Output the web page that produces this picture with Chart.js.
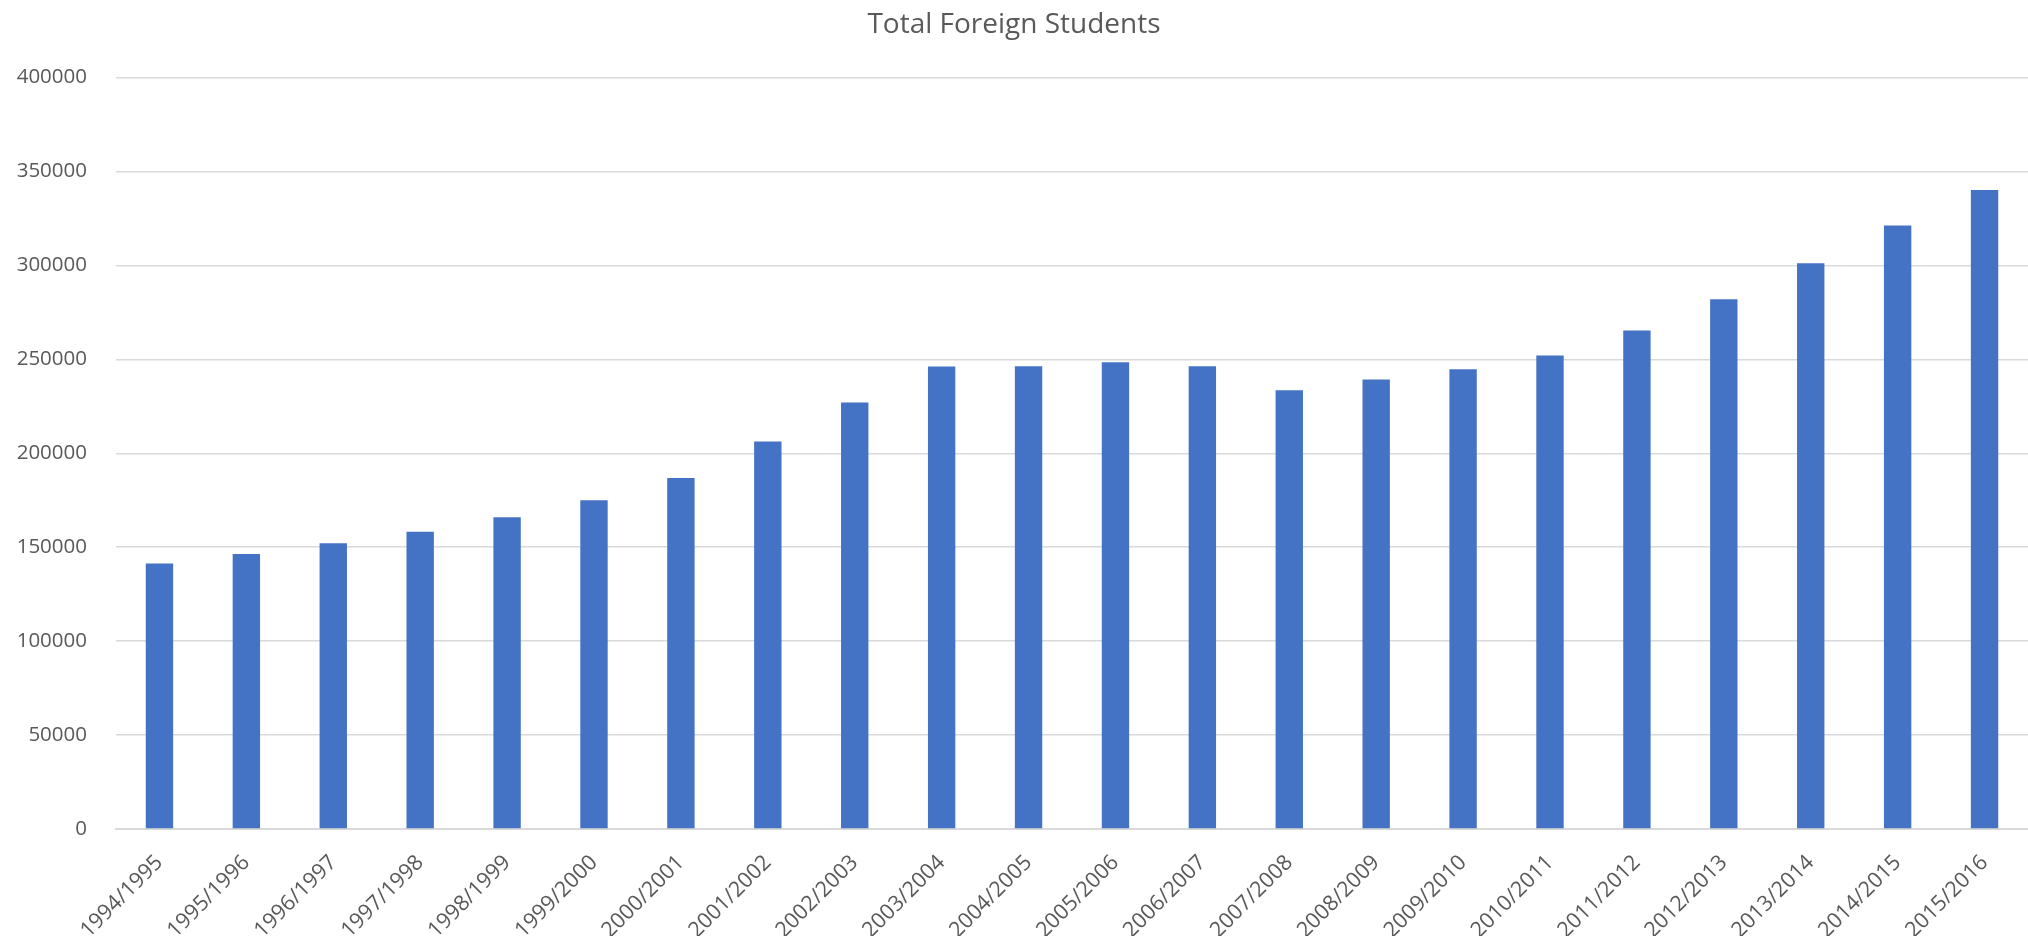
<!DOCTYPE html>
<html>
<head>
<meta charset="utf-8">
<script src="https://cdn.jsdelivr.net/npm/chart.js@4.4.0/dist/chart.umd.min.js"></script>
<style>
html,body{margin:0;padding:0;background:#fff;}
#wrap{width:2028px;height:936px;position:relative;}
</style>
</head>
<body>
<div id="wrap"><canvas id="c"></canvas></div>
<script>
const categories = ["1994/1995","1995/1996","1996/1997","1997/1998","1998/1999","1999/2000","2000/2001","2001/2002","2002/2003","2003/2004","2004/2005","2005/2006","2006/2007","2007/2008","2008/2009","2009/2010","2010/2011","2011/2012","2012/2013","2013/2014","2014/2015","2015/2016"];
const totalForeignStudents = [141400,146400,152100,158200,166000,175000,186800,206300,227000,246200,246400,248500,246400,233600,239300,244800,252000,265400,282000,301200,321300,340100];
const yTicks = [0,50000,100000,150000,200000,250000,300000,350000,400000];
const chartTitle = "Total Foreign Students";

const FONT = "'Open Sans', 'Liberation Sans', sans-serif";
new Chart(document.getElementById('c'), {
  type: 'bar',
  data: {
    labels: categories,
    datasets: [{
      label: chartTitle,
      data: totalForeignStudents,
      backgroundColor: '#4472C4',
      borderWidth: 0,
      categoryPercentage: 1.0,
      barPercentage: 0.315
    }]
  },
  options: {
    responsive: true,
    maintainAspectRatio: false,
    animation: false,
    layout: { padding: { left: 0, right: 0, top: 0, bottom: 0 } },
    plugins: {
      legend: { display: false },
      tooltip: { enabled: false },
      title: {
        display: true,
        text: chartTitle,
        color: '#595959',
        font: { family: FONT, size: 28, weight: 'normal' },
        padding: { top: 8, bottom: 36 }
      }
    },
    scales: {
      x: {
        grid: { display: false, drawTicks: false },
        border: { display: true, color: '#d9d9d9', width: 2 },
        ticks: {
          color: '#595959',
          font: { family: FONT, size: 21.5 },
          maxRotation: 45,
          minRotation: 45,
          autoSkip: false,
          padding: 21
        },
        afterFit: (s) => { s.height = 107; }
      },
      y: {
        min: 0,
        max: 400000,
        afterBuildTicks: (s) => { s.ticks = yTicks.map(v => ({ value: v })); },
        grid: { color: '#d9d9d9', lineWidth: 1.5, drawTicks: false },
        border: { display: false },
        ticks: {
          color: '#595959',
          font: { family: FONT, size: 20.5 },
          padding: 29,
          callback: (v) => String(v)
        },
        afterFit: (s) => { s.width = 116; }
      }
    }
  }
});
</script>
</body>
</html>
